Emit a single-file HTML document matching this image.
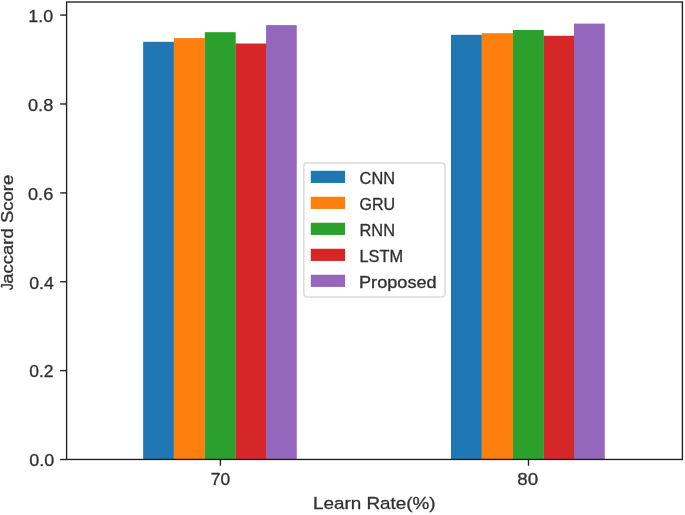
<!DOCTYPE html>
<html><head><meta charset="utf-8"><style>
html,body{margin:0;padding:0;background:#fff;}
body{width:685px;height:515px;overflow:hidden;}
svg{display:block;}
text{font-family:"Liberation Sans",sans-serif;fill:#303030;}
svg{filter:blur(0.65px);} text{stroke:#303030;stroke-width:0.3px;}
</style></head><body>
<svg width="685" height="515" viewBox="0 0 685 515">
<rect x="143.15" y="41.80" width="30.75" height="417.70" fill="#1f77b4"/>
<rect x="173.80" y="41.80" width="0.9" height="417.70" fill="#1f77b4"/>
<rect x="173.90" y="38.10" width="30.90" height="421.40" fill="#ff7f0e"/>
<rect x="204.70" y="38.10" width="0.9" height="421.40" fill="#ff7f0e"/>
<rect x="204.80" y="32.20" width="30.90" height="427.30" fill="#2ca02c"/>
<rect x="235.60" y="43.50" width="0.9" height="416.00" fill="#2ca02c"/>
<rect x="235.70" y="43.50" width="30.40" height="416.00" fill="#d62728"/>
<rect x="266.00" y="43.50" width="0.9" height="416.00" fill="#d62728"/>
<rect x="266.10" y="25.10" width="30.65" height="434.40" fill="#9467bd"/>
<rect x="451.00" y="34.80" width="30.80" height="424.70" fill="#1f77b4"/>
<rect x="481.70" y="34.80" width="0.9" height="424.70" fill="#1f77b4"/>
<rect x="481.80" y="33.20" width="31.20" height="426.30" fill="#ff7f0e"/>
<rect x="512.90" y="33.20" width="0.9" height="426.30" fill="#ff7f0e"/>
<rect x="513.00" y="30.00" width="30.80" height="429.50" fill="#2ca02c"/>
<rect x="543.70" y="35.80" width="0.9" height="423.70" fill="#2ca02c"/>
<rect x="543.80" y="35.80" width="30.20" height="423.70" fill="#d62728"/>
<rect x="573.90" y="35.80" width="0.9" height="423.70" fill="#d62728"/>
<rect x="574.00" y="23.60" width="30.75" height="435.90" fill="#9467bd"/>
<rect x="66.6" y="2.0" width="615.80" height="457.45" fill="none" stroke="#1e1e1e" stroke-width="1.35"/>
<line x1="60.2" x2="66.6" y1="459.50" y2="459.50" stroke="#1e1e1e" stroke-width="1.35"/>
<line x1="60.2" x2="66.6" y1="370.62" y2="370.62" stroke="#1e1e1e" stroke-width="1.35"/>
<line x1="60.2" x2="66.6" y1="281.74" y2="281.74" stroke="#1e1e1e" stroke-width="1.35"/>
<line x1="60.2" x2="66.6" y1="192.86" y2="192.86" stroke="#1e1e1e" stroke-width="1.35"/>
<line x1="60.2" x2="66.6" y1="103.98" y2="103.98" stroke="#1e1e1e" stroke-width="1.35"/>
<line x1="60.2" x2="66.6" y1="15.10" y2="15.10" stroke="#1e1e1e" stroke-width="1.35"/>
<line x1="220.4" x2="220.4" y1="459.45" y2="465.7" stroke="#1e1e1e" stroke-width="1.35"/>
<line x1="528.5" x2="528.5" y1="459.45" y2="465.7" stroke="#1e1e1e" stroke-width="1.35"/>
<rect x="303.8" y="162.9" width="141.2" height="134" rx="3.3" ry="3.3" fill="#fff" stroke="#dadada" stroke-width="1.5"/>
<rect x="310.8" y="170.75" width="34.3" height="12.2" fill="#1f77b4"/>
<rect x="310.8" y="196.75" width="34.3" height="12.2" fill="#ff7f0e"/>
<rect x="310.8" y="222.75" width="34.3" height="12.2" fill="#2ca02c"/>
<rect x="310.8" y="248.75" width="34.3" height="12.2" fill="#d62728"/>
<rect x="310.8" y="274.75" width="34.3" height="12.2" fill="#9467bd"/>
<text id="t10" x="28.25" y="22.00" style="font-size:16.8px" textLength="24.83" lengthAdjust="spacingAndGlyphs">1.0</text>
<text id="t08" x="28.00" y="110.75" style="font-size:16.8px" textLength="25.25" lengthAdjust="spacingAndGlyphs">0.8</text>
<text id="t06" x="28.00" y="200.00" style="font-size:16.8px" textLength="25.25" lengthAdjust="spacingAndGlyphs">0.6</text>
<text id="t04" x="29.25" y="289.00" style="font-size:16.8px" textLength="24.64" lengthAdjust="spacingAndGlyphs">0.4</text>
<text id="t02" x="29.25" y="376.75" style="font-size:16.8px" textLength="24.37" lengthAdjust="spacingAndGlyphs">0.2</text>
<text id="t00" x="29.25" y="466.25" style="font-size:16.8px" textLength="24.96" lengthAdjust="spacingAndGlyphs">0.0</text>
<text id="x70" x="210.75" y="484.75" style="font-size:16.8px" textLength="19.35" lengthAdjust="spacingAndGlyphs">70</text>
<text id="x80" x="517.25" y="484.50" style="font-size:16.8px" textLength="20.88" lengthAdjust="spacingAndGlyphs">80</text>
<text id="xl" x="313.00" y="509.25" style="font-size:16.8px" textLength="122.52" lengthAdjust="spacingAndGlyphs">Learn Rate(%)</text>
<text id="l0" x="359.60" y="183.50" style="font-size:16.5px" textLength="35.47" lengthAdjust="spacingAndGlyphs">CNN</text>
<text id="l1" x="359.40" y="209.60" style="font-size:16.5px" textLength="35.70" lengthAdjust="spacingAndGlyphs">GRU</text>
<text id="l2" x="359.50" y="235.55" style="font-size:16.5px" textLength="35.58" lengthAdjust="spacingAndGlyphs">RNN</text>
<text id="l3" x="359.55" y="261.55" style="font-size:16.5px" textLength="43.51" lengthAdjust="spacingAndGlyphs">LSTM</text>
<text id="l4" x="359.00" y="287.55" style="font-size:16.5px" textLength="77.62" lengthAdjust="spacingAndGlyphs">Proposed</text>
<text id="yl" transform="translate(13.45,283.70) rotate(-90)" x="0" y="0" style="font-size:17.4px" textLength="108.95" lengthAdjust="spacingAndGlyphs">accard Score</text>
<text id="yj" transform="translate(13.45,289.95) rotate(-90)" x="0" y="0" style="font-size:17.4px" textLength="6.65" lengthAdjust="spacingAndGlyphs">J</text>
</svg>
</body></html>
